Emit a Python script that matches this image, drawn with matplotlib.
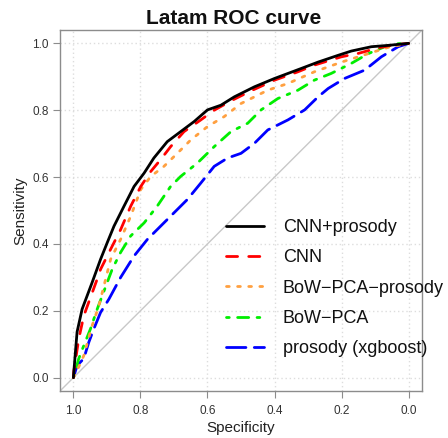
import matplotlib
matplotlib.use("Agg")
import matplotlib.pyplot as plt

plt.rcParams['font.family'] = ['Liberation Sans', 'DejaVu Sans']

# ---- data ----
labels = ["CNN+prosody", "CNN", "BoW\u2212PCA\u2212prosody", "BoW\u2212PCA", "prosody (xgboost)"]

spec_cnnp = [1.0, 0.994, 0.989, 0.974, 0.959, 0.944, 0.919, 0.899, 0.879, 0.849, 0.819, 0.789, 0.760,
             0.720, 0.680, 0.640, 0.600, 0.560, 0.520, 0.460, 0.400, 0.320, 0.270, 0.211, 0.171, 0.111,
             0.061, 0.0]
sens_cnnp = [0.0, 0.077, 0.137, 0.205, 0.245, 0.285, 0.354, 0.404, 0.453, 0.513, 0.572, 0.612, 0.657,
             0.706, 0.736, 0.766, 0.801, 0.815, 0.840, 0.870, 0.895, 0.925, 0.944, 0.964, 0.977, 0.990,
             0.994, 1.0]

spec_cnn = [1.0, 0.999, 0.984, 0.969, 0.949, 0.929, 0.919, 0.889, 0.859, 0.829, 0.799, 0.769, 0.740,
            0.710, 0.670, 0.620, 0.580, 0.530, 0.470, 0.400, 0.330, 0.281, 0.200, 0.150, 0.100, 0.050, 0.0]
sens_cnn = [0.0, 0.018, 0.116, 0.185, 0.240, 0.295, 0.324, 0.384, 0.443, 0.513, 0.572, 0.617, 0.652,
            0.691, 0.736, 0.771, 0.800, 0.828, 0.858, 0.890, 0.915, 0.935, 0.960, 0.970, 0.984, 0.995, 1.0]

spec_bpp = [1.0, 0.985, 0.969, 0.944, 0.924, 0.909, 0.889, 0.859, 0.829, 0.799, 0.769, 0.730, 0.690,
            0.650, 0.600, 0.550, 0.500, 0.420, 0.360, 0.281, 0.200, 0.121, 0.061, 0.0]
sens_bpp = [0.0, 0.030, 0.066, 0.156, 0.215, 0.274, 0.354, 0.414, 0.483, 0.563, 0.602, 0.632, 0.671,
            0.711, 0.751, 0.781, 0.820, 0.860, 0.880, 0.915, 0.944, 0.969, 0.988, 1.0]

spec_bp = [1.0, 0.984, 0.969, 0.949, 0.929, 0.914, 0.899, 0.884, 0.859, 0.829, 0.789, 0.750, 0.710,
           0.680, 0.630, 0.580, 0.530, 0.480, 0.440, 0.390, 0.330, 0.281, 0.231, 0.171, 0.121, 0.071,
           0.031, 0.0]
sens_bp = [0.0, 0.057, 0.096, 0.146, 0.205, 0.245, 0.285, 0.325, 0.375, 0.424, 0.463, 0.513, 0.572,
           0.602, 0.642, 0.691, 0.736, 0.761, 0.801, 0.835, 0.860, 0.890, 0.910, 0.940, 0.969, 0.990,
           0.999, 1.0]

spec_pros = [1.0, 0.989, 0.969, 0.954, 0.939, 0.919, 0.894, 0.859, 0.819, 0.779, 0.740, 0.700, 0.660,
             0.620, 0.580, 0.540, 0.500, 0.460, 0.420, 0.360, 0.310, 0.270, 0.240, 0.191, 0.131, 0.081,
             0.031, 0.0]
sens_pros = [0.0, 0.036, 0.057, 0.106, 0.146, 0.195, 0.235, 0.300, 0.364, 0.414, 0.453, 0.493, 0.533,
             0.582, 0.632, 0.657, 0.671, 0.701, 0.741, 0.771, 0.801, 0.840, 0.865, 0.895, 0.920, 0.960,
             0.990, 1.0]

ticks = [0.0, 0.2, 0.4, 0.6, 0.8, 1.0]
tick_labels = ["0.0", "0.2", "0.4", "0.6", "0.8", "1.0"]

# ---- figure ----
W, H = 448, 438
fig = plt.figure(figsize=(W / 100, H / 100), dpi=100)
ax = fig.add_axes([60 / W, 1 - 391 / H, (422 - 60) / W, (391 - 30) / H])

ax.set_xlim(1.04, -0.04)
ax.set_ylim(-0.04, 1.04)

# grid
for t in ticks:
    ax.axvline(t, color="#dddddd", lw=1, ls=(0, (1, 2)), zorder=0)
    ax.axhline(t, color="#dddddd", lw=1, ls=(0, (1, 2)), zorder=0)

# diagonal
ax.axline((1.0, 0.0), (0.0, 1.0), color="#c8c8c8", lw=1, zorder=1)

lw = 2.0
ax.plot(spec_pros, sens_pros, color="#0000ff", lw=lw, dashes=(7, 3), dash_capstyle="round", label=labels[4], zorder=2)
ax.plot(spec_bp, sens_bp, color="#00ee00", lw=lw, dashes=(1, 3, 4, 3), dash_capstyle="round", label=labels[3], zorder=3)
ax.plot(spec_bpp, sens_bpp, color="#ffa040", lw=lw, dashes=(1, 3), dash_capstyle="round", label=labels[2], zorder=4)
ax.plot(spec_cnn, sens_cnn, color="#ff0000", lw=lw, dashes=(4, 4), dash_capstyle="round", label=labels[1], zorder=5)
ax.plot(spec_cnnp, sens_cnnp, color="#000000", lw=lw, solid_capstyle="round", label=labels[0], zorder=6)

ax.set_xticks(ticks)
ax.set_xticklabels(tick_labels)
ax.set_yticks(ticks)
ax.set_yticklabels(tick_labels)
ax.tick_params(axis="both", direction="out", length=5, width=0.8, color="#8c8c8c",
               labelsize=8.5, labelcolor="#333333", pad=3)
ax.tick_params(axis="x", pad=5)
for s in ax.spines.values():
    s.set_color("#8c8c8c")
    s.set_linewidth(1)

fig.text(241 / W, 1 - 428 / H, "Specificity", ha="center", va="center", fontsize=11, color="#222222")
fig.text(20 / W, 1 - 211 / H, "Sensitivity", ha="center", va="center", rotation=90, fontsize=11, color="#222222")
fig.text(234 / W, 1 - 18.5 / H, "Latam ROC curve", ha="center", va="center", fontsize=15,
         fontweight="bold", color="#111111")

handles, labs = ax.get_legend_handles_labels()
hmap = dict(zip(labs, handles))
leg = ax.legend([hmap[l] for l in labels], labels, loc="upper left",
                bbox_to_anchor=(226 / W, 1 - 219 / H), bbox_transform=fig.transFigure,
                frameon=False, borderpad=0, borderaxespad=0, handlelength=2.1,
                handletextpad=1.05, labelspacing=0.74, fontsize=13)
for t in leg.get_texts():
    t.set_color("#111111")

fig.savefig("out.png", dpi=100)
